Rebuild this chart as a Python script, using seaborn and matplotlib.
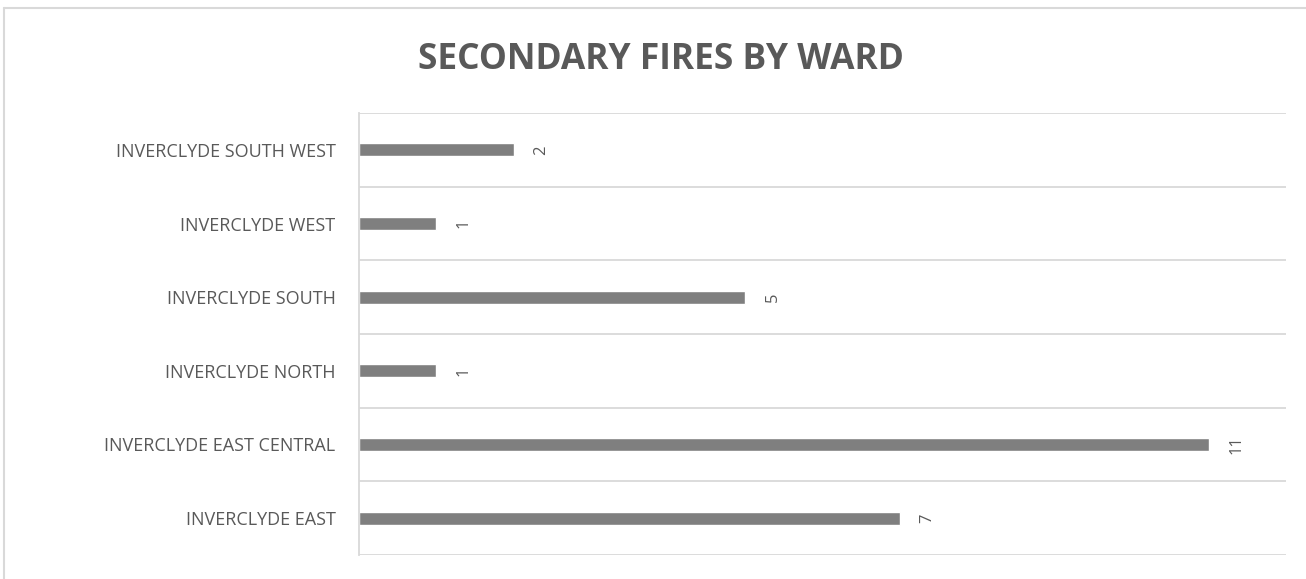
import matplotlib
matplotlib.use("Agg")
import matplotlib.pyplot as plt
import seaborn as sns
import pandas as pd
from matplotlib.lines import Line2D

wards = ["INVERCLYDE SOUTH WEST", "INVERCLYDE WEST", "INVERCLYDE SOUTH",
         "INVERCLYDE NORTH", "INVERCLYDE EAST CENTRAL", "INVERCLYDE EAST"]
fires = [2, 1, 5, 1, 11, 7]
title = "SECONDARY FIRES BY WARD"

df = pd.DataFrame({"ward": wards, "fires": fires})

sns.set_style("white")
plt.rcParams["font.family"] = ["Open Sans", "DejaVu Sans"]

fig = plt.figure(figsize=(13.06, 5.79), dpi=100)
ax = fig.add_axes([0.2749, 0.0415, 0.7098, 0.7633])

sns.barplot(data=df, x="fires", y="ward", order=wards, color="#7f7f7f",
            saturation=1, width=0.18, ax=ax)

ax.set_xlim(0, 12)
ax.set_ylim(5.5, -0.5)
ax.set_xlabel("")
ax.set_ylabel("")
ax.set_xticks([])

# gridlines between categories
for b in [i - 0.5 for i in range(len(wards) + 1)]:
    ax.axhline(b, color="#d9d9d9", lw=1.3, zorder=0)

for s in ["top", "right", "bottom"]:
    ax.spines[s].set_visible(False)
ax.spines["left"].set_color("#d9d9d9")
ax.spines["left"].set_linewidth(1.3)

ax.tick_params(axis="y", length=0, pad=17, labelsize=13, labelcolor="#595959")

ax.bar_label(ax.containers[0], padding=14, rotation=90, fontsize=12,
             color="#595959")

fig.text(0.506, 0.897, title, ha="center", va="center", fontsize=25.5,
         fontweight="bold", color="#595959")

# outer chart border
fig.add_artist(Line2D([0.003, 1.0], [0.986, 0.986], color="#d9d9d9", lw=1.5,
                      transform=fig.transFigure))
fig.add_artist(Line2D([0.003, 0.003], [0.0, 0.986], color="#d9d9d9", lw=1.5,
                      transform=fig.transFigure))

fig.savefig("out.png", dpi=100, facecolor="white")
